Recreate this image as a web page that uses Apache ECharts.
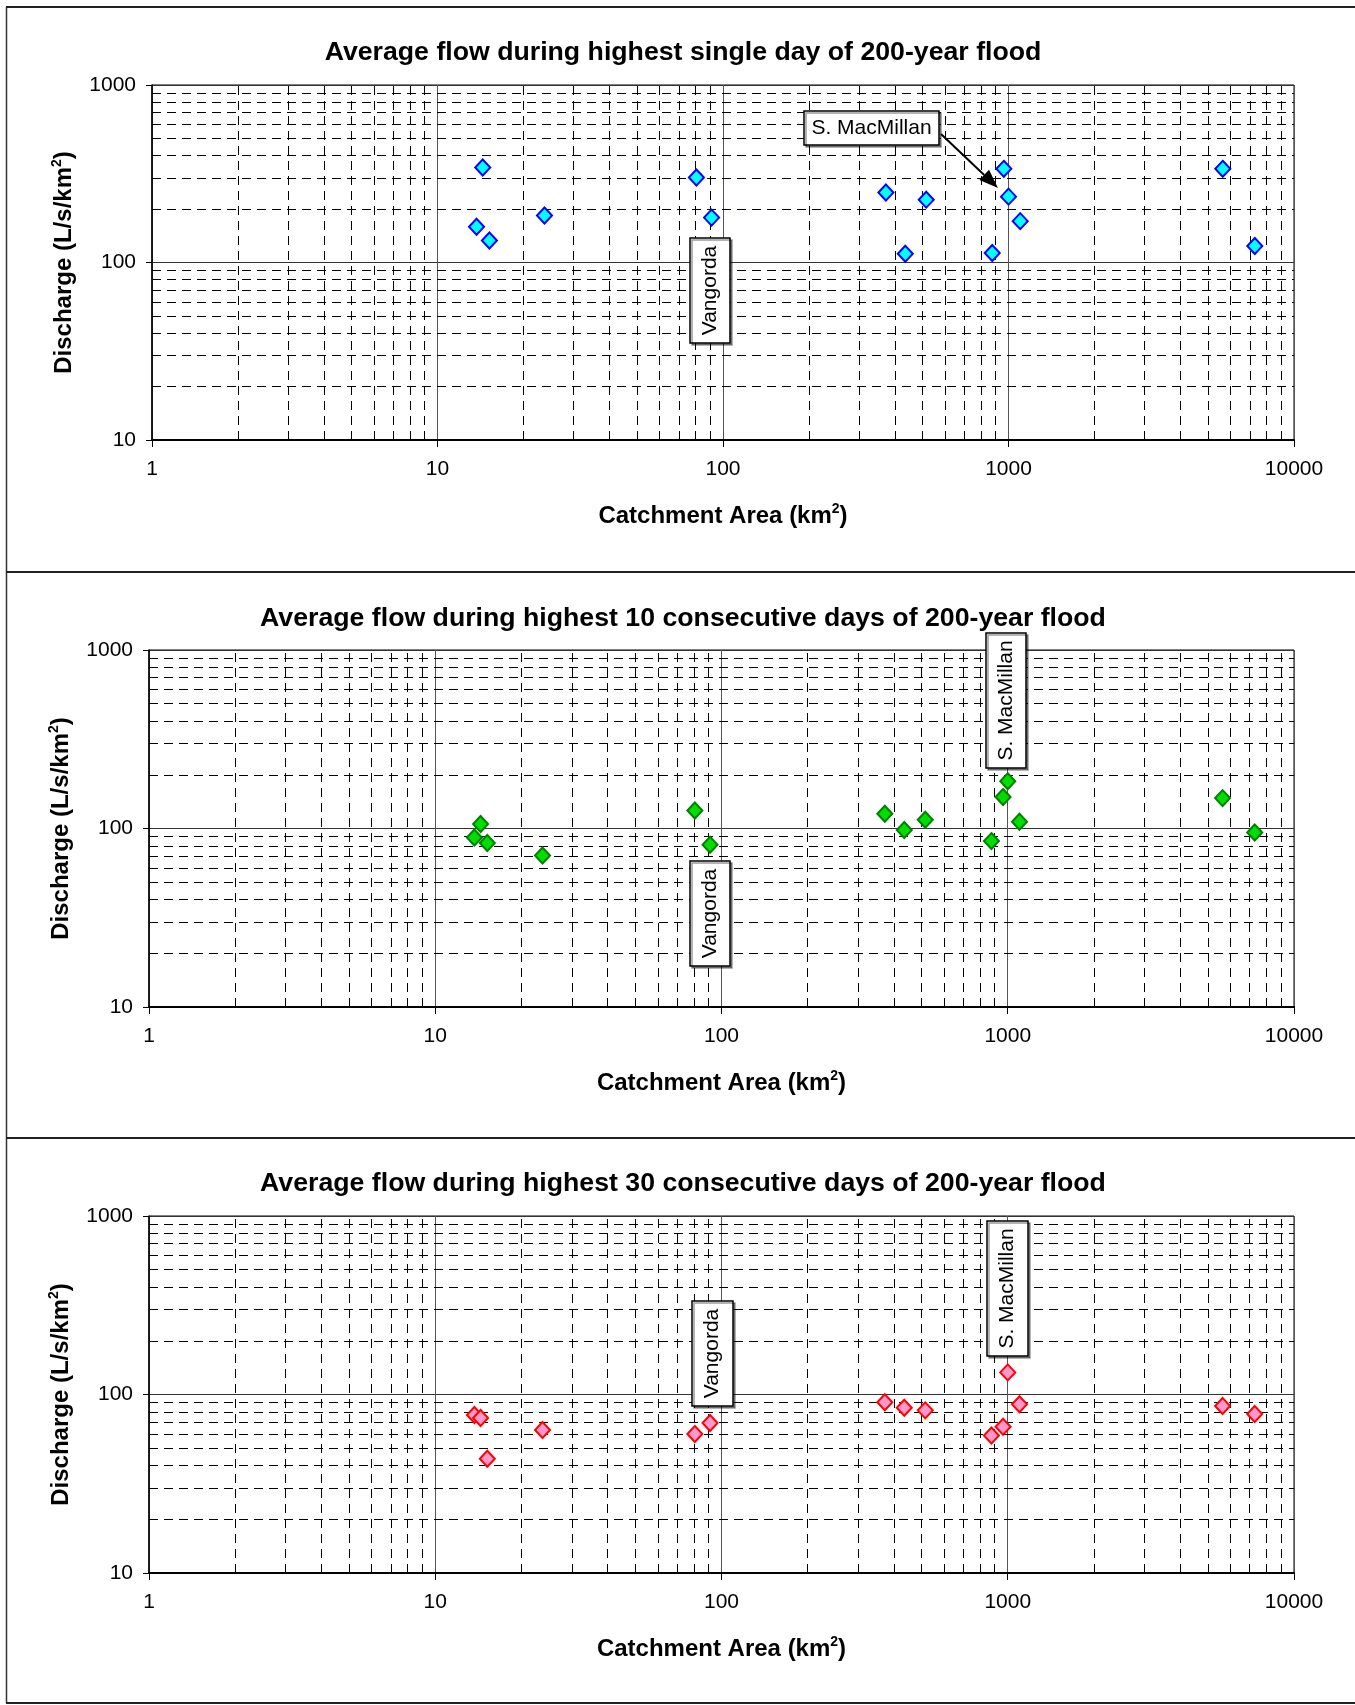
<!DOCTYPE html>
<html>
<head>
<meta charset="utf-8">
<title>200-year flood flows</title>
<script src="https://cdn.jsdelivr.net/npm/echarts@6/dist/echarts.min.js"></script>
<style>
  html, body { margin: 0; padding: 0; background: #fff; }
  #chart { width: 1355px; height: 1705px; }
</style>
</head>
<body>
<div id="chart"></div>
<script>
// chart data
const panelTitles = [
  'Average flow during highest single day of 200-year flood',
  'Average flow during highest 10 consecutive days of 200-year flood',
  'Average flow during highest 30 consecutive days of 200-year flood'
];
const catchmentArea = [13.7, 14.4, 15.2, 23.7, 80.7, 91.2, 372, 435, 515, 877, 963, 1000, 1099, 5630, 7290];
const flowDay1 = [159, 343, 133, 184, 301, 179, 248, 112, 226, 113, 337, 235, 171, 337, 124];
const flowDay10 = [89, 106, 83, 70.6, 126, 81, 121, 98, 112, 85, 150, 184, 109, 148, 95];
const flowDay30 = [76.8, 73.9, 43.7, 63.3, 60.1, 69.3, 90.4, 84.3, 81.5, 58.9, 66, 133, 88.2, 86.2, 77.8];
const xTickLabels = [1, 10, 100, 1000, 10000];
const yTickLabels = [10, 100, 1000];
const minorSteps = [2, 3, 4, 5, 6, 7, 8, 9];

const FONT = 'Arial, "Liberation Sans", sans-serif';

const panels = [
  { title: panelTitles[0], values: flowDay1, fill: '#00FFFF', border: '#0000FF', titleTop: 39, grid: { left: 152, top: 85, width: 1142, height: 355 } },
  { title: panelTitles[1], values: flowDay10, fill: '#00DD00', border: '#008000', titleTop: 605, grid: { left: 149, top: 650, width: 1145, height: 357 } },
  { title: panelTitles[2], values: flowDay30, fill: '#FF99CC', border: '#FF0000', titleTop: 1170, grid: { left: 149, top: 1216, width: 1145, height: 357 } }
];

// minor (dashed) grid values 2..9 in each decade
function minorValues(ticks) {
  const out = [];
  for (let i = 0; i < ticks.length - 1; i++) {
    minorSteps.forEach(s => out.push(ticks[i] * s));
  }
  return out;
}
const minorX = minorValues(xTickLabels);
const minorY = minorValues(yTickLabels);

const nameRich = {
  b: { fontFamily: FONT, fontSize: 24, fontWeight: 'bold', color: '#000', lineHeight: 28 },
  s: { fontFamily: FONT, fontSize: 14, fontWeight: 'bold', color: '#000', verticalAlign: 'top', lineHeight: 28 }
};
const tickFormatter = v => String(Math.round(v));

const title = [], grid = [], xAxis = [], yAxis = [], series = [];

panels.forEach((p, i) => {
  title.push({
    text: p.title, left: 683, textAlign: 'center', top: p.titleTop, padding: 0,
    textStyle: { fontFamily: FONT, fontSize: 26.7, fontWeight: 'bold', color: '#000' }
  });
  grid.push(Object.assign({ show: true, borderColor: '#000', borderWidth: 1 }, p.grid));
  xAxis.push({
    type: 'log', logBase: 10, gridIndex: i,
    min: xTickLabels[0], max: xTickLabels[xTickLabels.length - 1],
    name: '{b|Catchment Area (km}{s|2}{b|)}',
    nameLocation: 'middle', nameGap: 62,
    nameTextStyle: { rich: nameRich },
    axisLine: { show: true, onZero: false, lineStyle: { color: '#000', width: 2 } },
    axisTick: { show: true, length: 7, lineStyle: { color: '#000' } },
    axisLabel: { fontFamily: FONT, fontSize: 21, color: '#000', margin: 19, formatter: tickFormatter },
    splitLine: { show: true, lineStyle: { color: '#555', width: 1 } }
  });
  yAxis.push({
    type: 'log', logBase: 10, gridIndex: i,
    min: yTickLabels[0], max: yTickLabels[yTickLabels.length - 1],
    name: '{b|Discharge (L/s/km}{s|2}{b|)}',
    nameLocation: 'middle', nameGap: 74,
    nameTextStyle: { rich: nameRich },
    axisLine: { show: true, onZero: false, lineStyle: { color: '#000', width: 1.5 } },
    axisTick: { show: true, length: 6, lineStyle: { color: '#000' } },
    axisLabel: { fontFamily: FONT, fontSize: 21, color: '#000', margin: 16, formatter: tickFormatter },
    splitLine: { show: true, lineStyle: { color: '#333', width: 1 } }
  });

  // dashed minor grid
  series.push({
    type: 'line', xAxisIndex: i, yAxisIndex: i, data: [], silent: true, z: 1,
    markLine: {
      silent: true, animation: false, symbol: ['none', 'none'],
      label: { show: false },
      emphasis: { disabled: true },
      lineStyle: { color: '#000', width: 1, type: [9, 6] },
      data: minorX.map(v => ({ xAxis: v })).concat(minorY.map(v => ({ yAxis: v })))
    }
  });

  series.push({
    type: 'scatter', xAxisIndex: i, yAxisIndex: i, z: 5,
    symbol: 'diamond', symbolSize: [15, 16],
    itemStyle: { color: p.fill, borderColor: p.border, borderWidth: 2, opacity: 1 },
    emphasis: { disabled: true },
    data: catchmentArea.map((x, k) => [x, p.values[k]])
  });
});

// annotation boxes, drawn above the grid lines
const TOP_Z = 100;
const boxStyle = { fill: '#fff', stroke: '#000', lineWidth: 1.5, shadowColor: 'rgba(0,0,0,0.4)', shadowOffsetX: 2, shadowOffsetY: 2, shadowBlur: 0 };
function labelBox(x, y, w, h, text, vertical) {
  return {
    type: 'group', x: x, y: y, z: TOP_Z,
    children: [
      { type: 'rect', z: TOP_Z, shape: { x: 0, y: 0, width: w, height: h }, style: boxStyle },
      {
        type: 'text', z: TOP_Z + 1, x: w / 2, y: h / 2, rotation: vertical ? Math.PI / 2 : 0,
        style: { text: text, fontFamily: FONT, fontSize: 21, fill: '#000', align: 'center', verticalAlign: 'middle' }
      }
    ]
  };
}
function arrow(x1, y1, x2, y2) {
  const a = Math.atan2(y2 - y1, x2 - x1);
  const len = 19, half = 7;
  const bx = x2 - len * Math.cos(a), by = y2 - len * Math.sin(a);
  return [
    { type: 'line', z: TOP_Z, shape: { x1: x1, y1: y1, x2: bx, y2: by }, style: { stroke: '#000', lineWidth: 2 } },
    {
      type: 'polygon', z: TOP_Z,
      shape: { points: [[x2, y2], [bx + half * Math.sin(a), by - half * Math.cos(a)], [bx - half * Math.sin(a), by + half * Math.cos(a)]] },
      style: { fill: '#000' }
    }
  ];
}
function hLine(y) {
  return { type: 'line', z: TOP_Z, shape: { x1: 6, y1: y, x2: 1355, y2: y }, style: { stroke: '#222', lineWidth: 2 } };
}

const graphic = [
  { type: 'line', z: TOP_Z, shape: { x1: 6.5, y1: 7, x2: 6.5, y2: 1703 }, style: { stroke: '#333', lineWidth: 1.5 } },
  hLine(7), hLine(572), hLine(1138), hLine(1703),
  labelBox(690, 238, 40, 105, 'Vangorda', true),
  labelBox(804, 111, 135, 34, 'S. MacMillan', false),
  labelBox(690, 861, 40, 105, 'Vangorda', true),
  labelBox(986, 633, 40, 135, 'S. MacMillan', true),
  labelBox(692, 1301, 41, 105, 'Vangorda', true),
  labelBox(987, 1221, 41, 135, 'S. MacMillan', true)
].concat(arrow(941, 134, 998, 188));

const myChart = echarts.init(document.getElementById('chart'));
myChart.setOption({
  animation: false,
  backgroundColor: '#fff',
  title: title,
  grid: grid,
  xAxis: xAxis,
  yAxis: yAxis,
  series: series,
  graphic: graphic
});
</script>
</body>
</html>
